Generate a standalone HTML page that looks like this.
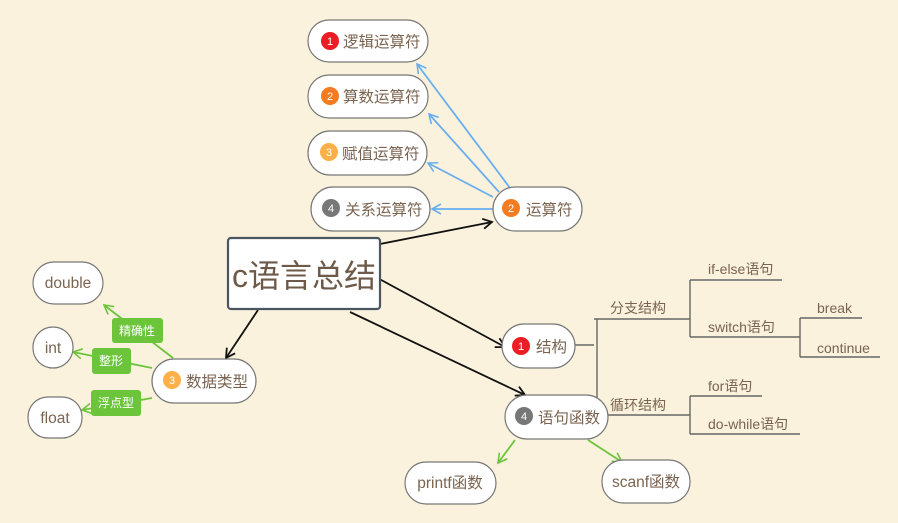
<!DOCTYPE html>
<html><head><meta charset="utf-8"><style>
html,body{margin:0;padding:0;background:#faf2dc;}
svg{display:block;font-family:"Liberation Sans","Noto Sans CJK SC",sans-serif;}
.p{fill:#fff;stroke:#777;stroke-width:1.2;}
.t{fill:#7a6450;font-size:15.5px;}
.tl{fill:#7a6450;font-size:14px;}
.bt{fill:#fff;font-size:11px;text-anchor:middle;}
.gl{fill:#fff;font-size:12px;text-anchor:middle;}
</style></head><body>
<svg width="898" height="523" viewBox="0 0 898 523">
<defs>
<marker id="ab" markerWidth="12" markerHeight="12" refX="10" refY="6" orient="auto" markerUnits="userSpaceOnUse"><path d="M1,1 L10,6 L1,11" fill="none" stroke="#111" stroke-width="1.8"/></marker>
<marker id="abl" markerWidth="12" markerHeight="12" refX="10" refY="6" orient="auto" markerUnits="userSpaceOnUse"><path d="M1,1 L10,6 L1,11" fill="none" stroke="#6aaef0" stroke-width="1.6"/></marker>
<marker id="ag" markerWidth="12" markerHeight="12" refX="10" refY="6" orient="auto" markerUnits="userSpaceOnUse"><path d="M1,1 L10,6 L1,11" fill="none" stroke="#6cc43a" stroke-width="1.6"/></marker>
</defs>
<g stroke="#6aaef0" stroke-width="1.8" fill="none" marker-end="url(#abl)">
<line x1="510" y1="188" x2="417" y2="64"/>
<line x1="499" y1="192" x2="429" y2="114"/>
<line x1="493" y1="197" x2="428" y2="163"/>
<line x1="493" y1="209" x2="432" y2="209"/>
</g>
<g stroke="#111" stroke-width="1.8" fill="none" marker-end="url(#ab)">
<line x1="380" y1="244" x2="492" y2="222"/>
<line x1="372" y1="275" x2="505" y2="347"/>
<line x1="350" y1="312" x2="525" y2="395"/>
<line x1="258" y1="310" x2="226" y2="358"/>
</g>
<g stroke="#6cc43a" stroke-width="1.8" fill="none" marker-end="url(#ag)">
<line x1="173" y1="358" x2="104" y2="305"/>
<line x1="152" y1="368" x2="73" y2="352"/>
<line x1="152" y1="398" x2="82" y2="410"/>
<line x1="515" y1="440" x2="498" y2="463"/>
<line x1="588" y1="440" x2="622" y2="462"/>
</g>
<g stroke="#666" stroke-width="1.4" fill="none">
<path d="M575,345 H594 M597,319 V415 M594,319 H690 M594,415 H690"/>
<path d="M690,280 V337 M690,280 H782 M690,337 H800"/>
<path d="M800,318 V357 M800,318 H862 M800,357 H880"/>
<path d="M690,396 V434 M690,396 H762 M690,434 H800"/>
</g>
<g class="tl">
<text x="610" y="313">分支结构</text>
<text x="610" y="410">循环结构</text>
<text x="708" y="274">if-else语句</text>
<text x="708" y="332">switch语句</text>
<text x="817" y="313">break</text>
<text x="817" y="353">continue</text>
<text x="708" y="391">for语句</text>
<text x="708" y="429">do-while语句</text>
</g>
<rect class="p" x="308" y="20" width="120" height="42" rx="21"/>
<circle cx="330" cy="41" r="9" fill="#ee1c25"/><text class="bt" x="330" y="45">1</text>
<text class="t" x="343" y="47">逻辑运算符</text>
<rect class="p" x="308" y="75" width="120" height="43" rx="21"/>
<circle cx="330" cy="96" r="9" fill="#f47b1f"/><text class="bt" x="330" y="100">2</text>
<text class="t" x="343" y="102">算数运算符</text>
<rect class="p" x="308" y="131" width="119" height="44" rx="22"/>
<circle cx="329" cy="152" r="9" fill="#fbb04a"/><text class="bt" x="329" y="156">3</text>
<text class="t" x="342" y="159">赋值运算符</text>
<rect class="p" x="311" y="187" width="119" height="44" rx="22"/>
<circle cx="331" cy="208" r="9" fill="#777"/><text class="bt" x="331" y="212">4</text>
<text class="t" x="345" y="215">关系运算符</text>
<rect class="p" x="493" y="187" width="89" height="44" rx="22"/>
<circle cx="511" cy="208" r="9" fill="#f47b1f"/><text class="bt" x="511" y="212">2</text>
<text class="t" x="526" y="215">运算符</text>
<rect x="228" y="238" width="152" height="71" rx="3" fill="#fff" stroke="#4a5560" stroke-width="2.2"/>
<text x="304" y="287" text-anchor="middle" style="font-size:32px;fill:#6e5a48">c语言总结</text>
<rect class="p" x="33" y="262" width="70" height="42" rx="21"/><text class="t" x="68" y="288" text-anchor="middle">double</text>
<rect class="p" x="33" y="327" width="40" height="41" rx="20"/><text class="t" x="53" y="353" text-anchor="middle">int</text>
<rect class="p" x="28" y="397" width="54" height="41" rx="20"/><text class="t" x="55" y="423" text-anchor="middle">float</text>
<rect class="p" x="152" y="359" width="104" height="44" rx="22"/>
<circle cx="172" cy="380" r="9" fill="#fbb04a"/><text class="bt" x="172" y="384">3</text>
<text class="t" x="186" y="387">数据类型</text>
<rect x="112" y="318" width="51" height="25" rx="3" fill="#6cc43a"/><text class="gl" x="137" y="335">精确性</text>
<rect x="92" y="348" width="39" height="26" rx="3" fill="#6cc43a"/><text class="gl" x="111" y="365">整形</text>
<rect x="91" y="390" width="50" height="26" rx="3" fill="#6cc43a"/><text class="gl" x="116" y="407">浮点型</text>
<rect class="p" x="502" y="324" width="73" height="44" rx="22"/>
<circle cx="521" cy="346" r="9" fill="#ee1c25"/><text class="bt" x="521" y="350">1</text>
<text class="t" x="536" y="352">结构</text>
<rect class="p" x="505" y="395" width="103" height="44" rx="22"/>
<circle cx="524" cy="416" r="9" fill="#777"/><text class="bt" x="524" y="420">4</text>
<text class="t" x="538" y="423">语句函数</text>
<rect class="p" x="405" y="462" width="91" height="42" rx="21"/><text class="t" x="450" y="488" text-anchor="middle">printf函数</text>
<rect class="p" x="602" y="460" width="88" height="43" rx="21"/><text class="t" x="646" y="487" text-anchor="middle">scanf函数</text>
</svg>
</body></html>
